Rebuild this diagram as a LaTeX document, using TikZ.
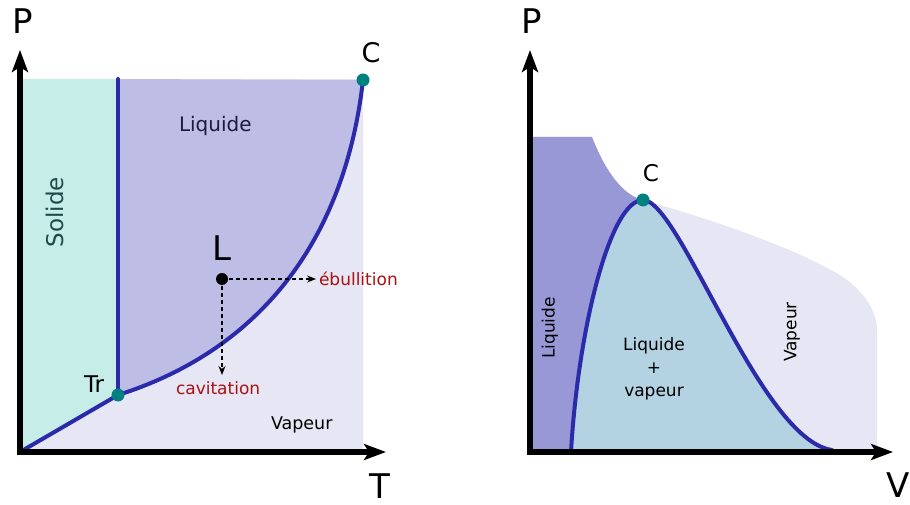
\documentclass[tikz,border=0pt]{standalone}
\usepackage{fontspec}
\setmainfont{DejaVu Sans}
\usetikzlibrary{arrows.meta}
\definecolor{solcol}{HTML}{C6EDE8}
\definecolor{liqcol}{HTML}{BDBDE6}
\definecolor{vapcol}{HTML}{E6E6F4}
\definecolor{liqdark}{HTML}{9898D6}
\definecolor{bellcol}{HTML}{B3D3E3}
\definecolor{curvecol}{HTML}{2A2AAA}
\definecolor{dotcol}{HTML}{008080}
\definecolor{redtxt}{HTML}{AA1111}
\definecolor{navytxt}{HTML}{1C1C3C}
\definecolor{tealtxt}{HTML}{1E4A4A}
\newcommand{\fs}[1]{\fontsize{#1}{#1}\selectfont}
\begin{document}
\begin{tikzpicture}[x=1pt,y=-1pt,
  axisline/.style={line width=5.5pt, line cap=butt, -{Stealth[length=22pt,width=16pt,inset=5pt]}},
  phaseline/.style={curvecol, line width=4pt, line cap=round},
  tdot/.style={circle, fill=dotcol, inner sep=0pt, minimum size=13pt},
  ldot/.style={circle, fill=black, inner sep=0pt, minimum size=12pt},
  dasharrow/.style={dashed, line width=1.3pt, dash pattern=on 4pt off 3pt, -{Stealth[length=9pt,width=7pt]}},
  lbl/.style={inner sep=0pt, outer sep=0pt},
]
\useasboundingbox (0,0) rectangle (910,505);
% ---------- left panel ----------
\coordinate (O1) at (20,452);
\coordinate (P1tip) at (20,50);
\coordinate (T1tip) at (386,452);
\coordinate (TrP) at (118,395);
\coordinate (CP) at (363,80);
\coordinate (TopS) at (118,79);
\coordinate (LP) at (222,279);
\coordinate (ebE) at (316,279);
\coordinate (cavE) at (222,375);
% regions
\fill[vapcol] (20,79) rectangle (363,451);
\fill[solcol] (20,79) -- (TopS) -- (TrP) -- (O1) -- cycle;
\fill[liqcol] (TopS) -- (CP) .. controls (345,240) and (260,350) .. (TrP) -- cycle;
% phase lines
\draw[phaseline] (O1) -- (TrP);
\draw[phaseline] (TrP) -- (TopS);
\draw[phaseline] (TrP) .. controls (260,350) and (345,240) .. (CP);
% axes
\draw[axisline] (20,455) -- (P1tip);
\draw[axisline] (17,452) -- (T1tip);
% dashed arrows
\draw[dasharrow] (LP) -- (ebE);
\draw[dasharrow] (LP) -- (cavE);
\node[ldot] (Ldot) at (LP) {};
\node[tdot] (Trdot) at (TrP) {};
\node[tdot] (Cdot) at (CP) {};
% labels
\node[lbl, anchor=base] (Plab1) at (23,34) {\fs{34}P};
\node[lbl, anchor=base] (Tlab1) at (380,498) {\fs{34}T};
\node[lbl, anchor=base] (Clab1) at (371,63) {\fs{27}C};
\node[lbl, anchor=base west] (Liqlab1) at (179,132) {\fs{20}\color{navytxt}Liquide};
\node[lbl, rotate=90] (Sollab) at (55,212) {\fs{23}\color{tealtxt}Solide};
\node[lbl, anchor=base] (Llab) at (222,260) {\fs{34}L};
\node[lbl, anchor=base west] (Trlab) at (84,392) {\fs{23}Tr};
\node[lbl, anchor=base west] (eblab) at (319,285) {\fs{17}\color{redtxt}ébullition};
\node[lbl, anchor=base west] (cavlab) at (176,394) {\fs{17}\color{redtxt}cavitation};
\node[lbl, anchor=base west] (Vaplab1) at (271,429) {\fs{17.5}Vapeur};
% ---------- right panel ----------
\coordinate (O2) at (530,452);
\coordinate (P2tip) at (530,50);
\coordinate (V2tip) at (893,452);
\coordinate (C2) at (643,200);
\coordinate (BL) at (571,452);
\coordinate (BR) at (832,450);
% regions
\fill[vapcol] (C2) .. controls (720,222) and (800,250) .. (843,277)
   .. controls (862,290) and (877,310) .. (877,330) -- (877,449) -- (BR)
   .. controls (760,440) and (680,200) .. (C2) -- cycle;
\fill[liqdark] (528,137) -- (592,137) .. controls (605,170) and (622,195) .. (C2)
   .. controls (610,200) and (578,330) .. (BL) -- (528,452) -- cycle;
\fill[bellcol] (BL) .. controls (578,330) and (610,200) .. (C2)
   .. controls (680,200) and (760,440) .. (BR) -- cycle;
\draw[phaseline] (BL) .. controls (578,330) and (610,200) .. (C2)
   .. controls (680,200) and (760,440) .. (BR);
% axes
\draw[axisline] (530,455) -- (P2tip);
\draw[axisline] (527,452) -- (V2tip);
\node[tdot] (C2dot) at (C2) {};
% labels
\node[lbl, anchor=base] (Plab2) at (532,34) {\fs{34}P};
\node[lbl, anchor=base west] (Vlab2) at (886,497) {\fs{34}V};
\node[lbl, anchor=base] (Clab2) at (651,182) {\fs{23}C};
\node[lbl, rotate=90] (Liqlab2) at (550,328) {\fs{17}Liquide};
\node[lbl, rotate=90] (Vaplab2) at (792,332) {\fs{17}Vapeur};
\node[lbl, anchor=base, align=center, font=\fontsize{17}{23}\selectfont] (Mixlab) at (654,396) {Liquide\\+\\vapeur};
\end{tikzpicture}
\end{document}
